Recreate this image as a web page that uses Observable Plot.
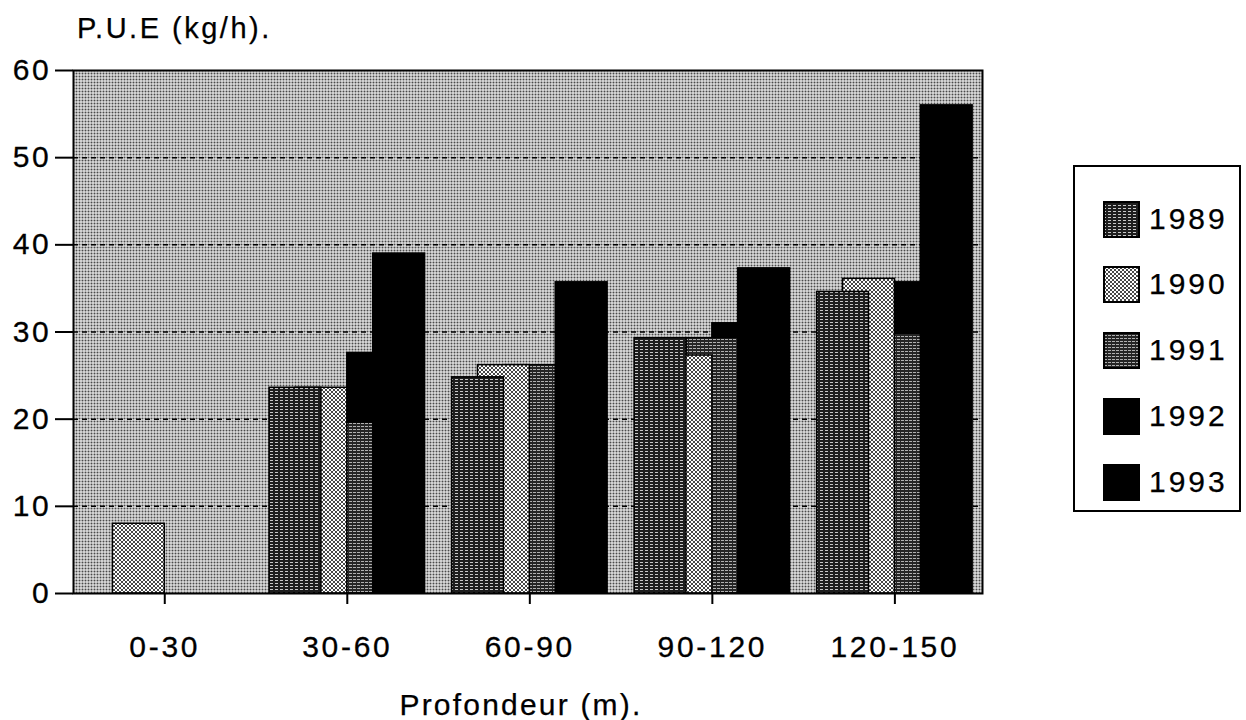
<!DOCTYPE html>
<html><head><meta charset="utf-8">
<script src="https://cdn.jsdelivr.net/npm/d3@7"></script>
<script src="https://cdn.jsdelivr.net/npm/@observablehq/plot@0.6"></script>
<style>
body{margin:0;background:#fff;font-family:"Liberation Sans",Arial,Helvetica,sans-serif;color:#000}
#wrap{position:relative;width:1246px;height:720px;overflow:hidden;background:#fff}
#wrap svg.plot{position:absolute;left:0;top:0}
#wrap svg.plot text{stroke:#000;stroke-width:0.3px;paint-order:stroke}
.lbl{position:absolute;white-space:nowrap;line-height:1;-webkit-text-stroke:0.25px #000}
#ylabel{left:77px;top:14px;font-size:29px;letter-spacing:2.5px}
#xlabel{left:321px;width:400px;text-align:center;top:690px;font-size:30px;letter-spacing:2.2px}
#legend{position:absolute;left:1073px;top:165px;width:168px;height:347px;border:2px solid #000;box-sizing:border-box}
.row{position:absolute;left:28px;height:37px;display:flex;align-items:center}
.row svg{display:block}
.row span{margin-left:9px;font-size:30px;letter-spacing:3px;line-height:1;-webkit-text-stroke:0.25px #000}
</style></head><body>
<svg width="0" height="0" style="position:absolute;left:0;top:0"><defs>
  <pattern id="dots" width="3" height="3" patternUnits="userSpaceOnUse">
    <rect width="3" height="3" fill="#fff"/>
    <rect width="2" height="2" fill="#4a4a4a"/>
  </pattern>
  <pattern id="p1989" width="5" height="3" patternUnits="userSpaceOnUse">
    <rect width="5" height="3" fill="#1e1e1e"/>
    <rect y="1" width="3" height="1" fill="#c8c8c8"/>
  </pattern>
  <pattern id="p1990" width="4" height="4" patternUnits="userSpaceOnUse">
    <rect width="4" height="4" fill="#fff"/>
    <path d="M0,0L4,4M4,0L0,4" stroke="#333" stroke-width="0.9"/>
  </pattern>
  <pattern id="p1991" width="4" height="3" patternUnits="userSpaceOnUse">
    <rect width="4" height="3" fill="#252525"/>
    <rect x="1" y="0" width="3" height="1" fill="#b0b0b0"/>
  </pattern>
</defs></svg>
<div id="wrap">
  <div class="lbl" id="ylabel">P.U.E (kg/h).</div>
  <div class="lbl" id="xlabel">Profondeur (m).</div>
  <div id="legend"></div>
</div>
<script>
// ---- data ----
const groups = ["0-30", "30-60", "60-90", "90-120", "120-150"];
const years = ["1989", "1990", "1991", "1992", "1993"];
const v1989 = [null, 23.6, 24.8, 29.3, 34.6];
const v1990 = [8.0, 23.6, 26.2, 27.3, 36.1];
const v1991 = [null, 19.6, 26.2, 29.3, 29.8];
const v1992 = [null, 27.6, 24.1, 31.0, 35.7];
const v1993 = [null, 39.0, 35.7, 37.3, 56.0];
const yTicks = [0, 10, 20, 30, 40, 50, 60];
const gridValues = [10, 20, 30, 40, 50];
const fills = ["url(#p1989)", "url(#p1990)", "url(#p1991)", "#000", "#000"];

const series = [v1989, v1990, v1991, v1992, v1993];
const step = 0.142; // overlapping bars: each bar is two steps wide
const table = [];
series.forEach((vals, si) => vals.forEach((v, gi) => {
  if (v != null) table.push({group: gi, year: years[si], si, value: v,
    x1: gi + (si - 3) * step, x2: gi + (si - 1) * step});
}));

const font = '"Liberation Sans", Arial, Helvetica, sans-serif';
const barMarks = [];
for (let si = years.length - 1; si >= 0; si--) {
  barMarks.push(Plot.rect(table.filter(d => d.si === si), {
    x1: "x1", x2: "x2", y1: 0, y2: "value",
    fill: fills[si], stroke: "#000", strokeWidth: 1.5
  }));
}

const chart = Plot.plot({
  width: 1246, height: 720,
  marginLeft: 73, marginRight: 264, marginTop: 70, marginBottom: 127,
  style: `font-family:${font};letter-spacing:2.7px;background:transparent;color:#000;overflow:visible`,
  x: {type: "linear", domain: [-0.5, 4.48]},
  y: {domain: [0, 60]},
  marks: [
    Plot.frame({fill: "url(#dots)", stroke: null}),
    Plot.ruleY(gridValues, {stroke: "#000", strokeWidth: 1.5, strokeDasharray: "5,4"}),
    ...barMarks,
    Plot.frame({stroke: "#000", strokeWidth: 2}),
    Plot.axisY(yTicks, {tickSize: 18, tickPadding: 4, fontSize: 30, strokeWidth: 2, label: null}),
    Plot.axisX([0, 1, 2, 3, 4], {tickFormat: i => groups[i], tickSize: 11, tickPadding: 31,
      fontSize: 30, strokeWidth: 2, label: null})
  ]
});
chart.classList.add("plot");
document.getElementById("wrap").prepend(chart);

// legend
const legend = document.getElementById("legend");
const rowCenters = [52, 117, 183, 249, 315];
years.forEach((y, i) => {
  const row = document.createElement("div");
  row.className = "row";
  row.style.top = (rowCenters[i] - 18.5) + "px";
  row.innerHTML = `<svg width="37" height="37"><rect x="1" y="1" width="35" height="35" fill="${fills[i]}" stroke="#000" stroke-width="2"/></svg><span>${y}</span>`;
  legend.appendChild(row);
});
</script>
</body></html>
